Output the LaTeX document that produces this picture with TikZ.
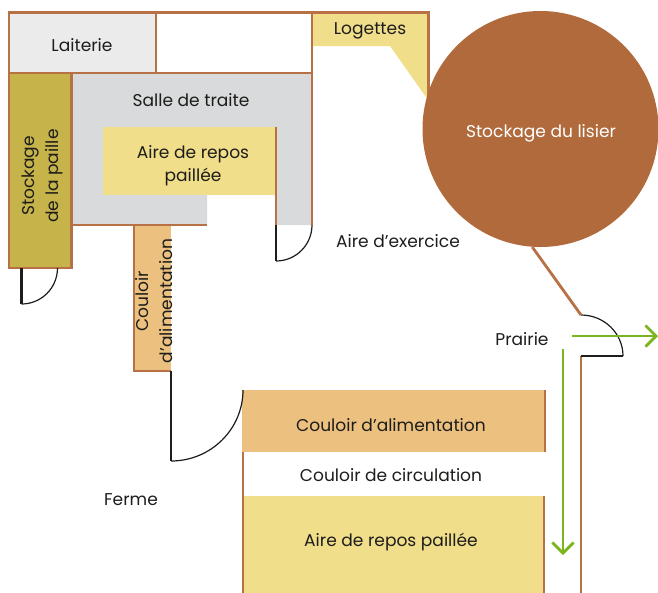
\documentclass[tikz,border=0pt]{standalone}
\usepackage{fontspec}
\setmainfont{Poppins}
\usepackage{xcolor}
\usetikzlibrary{arrows.meta}
\definecolor{wall}{HTML}{B87045}
\definecolor{lisier}{HTML}{B06A3B}
\definecolor{paille}{HTML}{C6B34A}
\definecolor{repos}{HTML}{F1DE8A}
\definecolor{couloir}{HTML}{ECC07F}
\definecolor{traite}{HTML}{D9DADB}
\definecolor{laitier}{HTML}{EBEBEB}
\definecolor{flux}{HTML}{7AB51D}
\definecolor{porte}{HTML}{1D1D1B}
\tikzset{mur/.style={draw=wall, line width=2.1pt}}
\tikzset{battant/.style={draw=porte, line width=2pt}}
\tikzset{arc porte/.style={draw=porte, line width=.9pt}}
\tikzset{fleche/.style={draw=flux, line width=2pt, -{Straight Barb[length=8pt, width=16pt, line width=2pt]}}}
\tikzset{lbl/.style={inner sep=0pt, font=\fontsize{12.8}{17.5}\selectfont, text=porte, align=center}}

\begin{document}
\begin{tikzpicture}[x=.75pt, y=-.75pt]
\useasboundingbox (0,0) rectangle (658,593);

% fonds
\fill[laitier] (9,13) rectangle (156,73);
\fill[traite] (72,73) -- (312,73) -- (312,225) -- (276,225) -- (276,195) -- (207,195) -- (207,225) -- (72,225) -- cycle;
\fill[repos] (103,127) rectangle (276,195);
\fill[paille] (9,73) rectangle (72,268);
\fill[couloir] (134,225) rectangle (171,371);
\fill[repos] (313,13) -- (428,13) -- (428,100) -- (390,46) -- (313,46) -- cycle;
\fill[couloir] (242,390) rectangle (545,452);
\fill[repos] (243,496) rectangle (545,593);

% murs
\draw[mur] (9,12.5) rectangle (156,73);
\draw[mur] (156,12.5) -- (428.5,12.5) -- (428.5,100);
\draw[mur] (156,73) -- (312,73);
\draw[mur] (312,12.5) -- (312,225);
\draw[mur] (9,73) rectangle (71.5,268);
\draw[mur] (71.5,225) -- (207,225);
\draw[mur] (276,127) -- (276,225);
\draw[mur] (134,225) -- (134,371) -- (171,371);
\draw[mur] (545,390) -- (545,452);
\draw[mur] (544,496) -- (544,593);
\draw[mur] (243,452) -- (243,593);
\draw[mur] (581,356) -- (581,593);

% portes
\draw[battant] (21.5,268) -- (21.5,304);
\draw[arc porte] (21.5,304) arc [start angle=-90, end angle=0, x radius=36, y radius=-36];
\draw[battant] (276,225) -- (276,261);
\draw[arc porte] (276,261) arc [start angle=-90, end angle=0, x radius=36, y radius=-36];
\draw[battant] (171,371) -- (171,461);
\draw[arc porte] (171,461) arc [start angle=-90, end angle=0, x radius=72, y radius=-71];
\draw[battant] (581,356) -- (623,356);
\draw[arc porte] (581,315) arc [start angle=90, end angle=0, x radius=42, y radius=-41];

% fosse
\coordinate (gond) at (581,315);
\node[circle, fill=lisier, minimum size=177pt, inner sep=0pt] (cuve) at (540.5,129) {};
\draw[mur] (cuve.266) -- (gond);
\node[lbl, text=white] (stocklisier) at (541,133) {Stockage du lisier};

% flux
\coordinate (prairieA) at (572,336);
\coordinate (prairieB) at (658,336);
\coordinate (sortieA) at (563,349);
\coordinate (sortieB) at (563,555);
\draw[fleche] (prairieA) -- (prairieB);
\draw[fleche] (sortieA) -- (sortieB);

% textes
\node[lbl] (laiterie) at (82,45) {Laiterie};
\node[lbl] (salle) at (191,100) {Salle de traite};
\node[lbl] (airehaut) at (193,166) {Aire de repos\\paillée};
\node[lbl, rotate=90] (paille) at (42.5,176) {Stockage\\de la paille};
\node[lbl, rotate=90] (couloirv) at (154,301) {Couloir\\d’alimentation};
\node[lbl] (logettes) at (370,31) {Logettes};
\node[lbl] (exercice) at (398,241) {Aire d’exercice};
\node[lbl] (prairie) at (522,339) {Prairie};
\node[lbl] (couloirh) at (391,425) {Couloir d’alimentation};
\node[lbl] (circulation) at (391,475) {Couloir de circulation};
\node[lbl] (airebas) at (391,542) {Aire de repos paillée};
\node[lbl] (ferme) at (131,500) {Ferme};
\end{tikzpicture}
\end{document}
